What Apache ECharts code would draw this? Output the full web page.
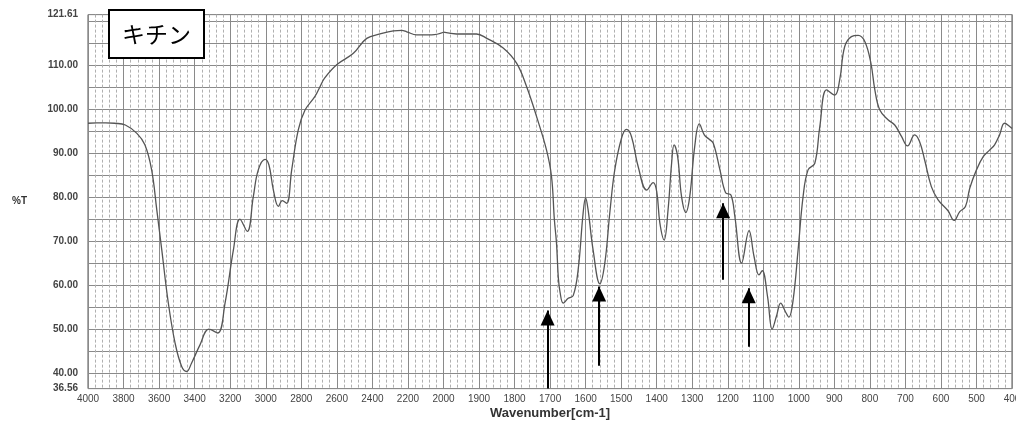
<!DOCTYPE html>
<html>
<head>
<meta charset="utf-8">
<script src="https://cdn.jsdelivr.net/npm/echarts@6/dist/echarts.min.js"></script>
<style>
html, body { margin: 0; padding: 0; background: #fff; }
#chart { width: 1016px; height: 424px; }
</style>
</head>
<body>
<div id="chart"></div>
<script>
// IR spectrum (キチン), wavenumber [cm-1] vs %T
var wavenumber = [
  4000, 3950, 3900, 3850, 3790, 3725, 3680, 3642, 3613, 3585, 3548, 3510, 3473, 3445, 3417,
  3370, 3320, 3270, 3229, 3182, 3145, 3104, 3070, 3042, 3004, 2982, 2957, 2929, 2907, 2882,
  2854, 2817, 2779, 2723, 2695, 2670, 2601, 2507, 2432, 2357, 2282, 2235, 2207, 2151, 2066,
  2000, 1963, 1907, 1878, 1832, 1794, 1766, 1738, 1710, 1696, 1688, 1682, 1677, 1672, 1663,
  1649, 1635, 1621, 1607, 1600, 1593, 1579, 1560, 1546, 1532, 1518, 1499, 1485, 1471, 1452,
  1428, 1410, 1400, 1391, 1379, 1368, 1358, 1351, 1341, 1330, 1318, 1307, 1293, 1280, 1266,
  1253, 1241, 1222, 1206, 1191, 1180, 1161, 1140, 1126, 1112, 1103, 1088, 1075, 1063, 1051,
  1038, 1028, 1016, 1002, 988, 974, 955, 941, 922, 899, 885, 871, 852, 833, 814,
  797, 786, 772, 749, 730, 711, 694, 674, 660, 646, 627, 608, 580, 563, 547,
  531, 519, 500, 481, 463, 449, 435, 421, 404, 400
]
var transmittance = [
  96.9, 97.0, 97.0, 96.9, 96.5, 94.6, 92.0, 86.3, 77.2, 68.1, 56.0, 46.9, 41.6, 40.45, 42.4,
  46.5, 50.1, 49.2, 56.0, 68.1, 75.1, 72.3, 80.2, 86.3, 88.7, 87.4, 81.7, 78.0, 79.3, 78.7,
  86.3, 95.4, 99.9, 103.0, 105.2, 107.1, 110.2, 112.8, 116.2, 117.2, 117.9, 118.0, 117.7, 117.0, 117.0,
  117.6, 117.2, 117.2, 116.2, 114.0, 110.5, 105.2, 98.4, 90.8, 84.8, 75.0, 69.7, 62.0, 58.5, 56.0,
  57.1, 57.7, 63.6, 76.5, 79.9, 77.2, 68.1, 60.4, 65.1, 76.5, 86.3, 93.5, 95.5, 93.9, 87.0,
  81.7, 83.4, 81.4, 74.2, 70.4, 77.2, 87.8, 92.0, 89.3, 80.2, 76.6, 80.2, 91.6, 96.75, 94.25,
  93.3, 92.4, 86.3, 81.1, 80.6, 75.7, 65.1, 72.5, 66.6, 62.4, 63.4, 57.5, 50.1, 53.0, 56.0,
  54.1, 52.8, 56.75, 68.1, 80.2, 86.3, 87.8, 96.1, 104.5, 103.3, 106.75, 114.3, 116.6, 116.9, 115.45,
  110.5, 104.5, 99.9, 97.7, 96.5, 93.9, 91.75, 94.25, 92.7, 88.6, 82.5, 79.5, 77.0, 74.8, 76.8,
  77.95, 82.1, 86.3, 89.3, 90.8, 92.0, 94.25, 96.9, 96.0, 95.7
]

// arrows marking peaks (wavenumber, %T of tail, %T of tip)
var arrowWn = [1707, 1562, 1213, 1141]
var arrowFrom = [36.56, 41.75, 61.3, 46.1]
var arrowTo = [54.3, 59.8, 78.7, 59.4]

var yMin = 36.56
var yMax = 121.61
var splitWn = 2000   // the x scale doubles below 2000 cm-1

var lineColor = '#555'
var gridColor = '#8a8a8a'
var labelFont = 'Liberation Sans'

var highPart = []
var lowPart = []
for (var i = 0; i < wavenumber.length; i++) {
  if (wavenumber[i] >= splitWn) highPart.push([wavenumber[i], transmittance[i]])
  if (wavenumber[i] <= splitWn) lowPart.push([wavenumber[i], transmittance[i]])
}

var arrowData = arrowWn.map(function (w, i) {
  return [{ coord: [w, arrowFrom[i]] }, { coord: [w, arrowTo[i]] }]
})

function xAxisOpt(index, min, max, interval, hideMax) {
  return {
    type: 'value',
    gridIndex: index,
    min: min,
    max: max,
    interval: interval,
    inverse: true,
    axisLine: { show: false },
    axisTick: { show: false },
    axisLabel: {
      margin: 6,
      color: '#444',
      fontSize: 10,
      fontFamily: labelFont,
      showMinLabel: true,
      showMaxLabel: true,
      formatter: function (v) {
        if (hideMax && v === max) return ''
        return String(v)
      }
    },
    splitLine: { show: true, lineStyle: { color: gridColor, width: 1 } },
    minorTick: { show: false, splitNumber: 5 },
    minorSplitLine: { show: true, lineStyle: { color: '#b0b0b0', width: 1, type: [3, 2] } }
  }
}

function yAxisOpt(index, showLabel) {
  return {
    type: 'value',
    gridIndex: index,
    min: yMin,
    max: yMax,
    splitNumber: 17,
    name: showLabel ? '%T' : '',
    nameLocation: 'middle',
    nameRotate: 0,
    nameGap: 61,
    nameTextStyle: { fontSize: 10, fontWeight: 'bold', color: '#333', fontFamily: labelFont },
    axisLine: { show: false },
    axisTick: { show: false },
    axisLabel: {
      show: showLabel,
      margin: 10,
      color: '#444',
      fontSize: 10,
      fontWeight: 'bold',
      fontFamily: labelFont,
      showMinLabel: true,
      showMaxLabel: true,
      formatter: function (v) {
        if (v === yMin || v === yMax) return v.toFixed(2)
        if (v < 115 && Math.abs(v % 10) < 1e-6) return v.toFixed(2)
        return ''
      }
    },
    splitLine: { show: true, lineStyle: { color: gridColor, width: 1 } }
  }
}

var chart = echarts.init(document.getElementById('chart'), null, { renderer: 'canvas' })
chart.setOption({
  animation: false,
  backgroundColor: '#fff',
  grid: [
    { left: 88, top: 14.6, width: 355.5, height: 374, outerBoundsMode: 'none', show: true, borderColor: '#555', borderWidth: 1 },
    { left: 443.5, top: 14.6, width: 568.5, height: 374, outerBoundsMode: 'none', show: true, borderColor: '#555', borderWidth: 1 }
  ],
  xAxis: [
    xAxisOpt(0, 2000, 4000, 200, false),
    xAxisOpt(1, 400, 2000, 100, true)
  ],
  yAxis: [
    yAxisOpt(0, true),
    yAxisOpt(1, false)
  ],
  series: [
    {
      type: 'line',
      xAxisIndex: 0,
      yAxisIndex: 0,
      data: highPart,
      smooth: 0.4,
      showSymbol: false,
      lineStyle: { color: lineColor, width: 1.3 }
    },
    {
      type: 'line',
      xAxisIndex: 1,
      yAxisIndex: 1,
      data: lowPart,
      smooth: 0.4,
      showSymbol: false,
      lineStyle: { color: lineColor, width: 1.3 },
      markLine: {
        silent: true,
        symbol: ['none', 'triangle'],
        symbolSize: [14, 15],
        // put the triangle's tip (not its centre) on the end point
        symbolOffset: [[0, 0], [0, 7.5]],
        label: { show: false },
        lineStyle: { color: '#000', width: 2, type: 'solid' },
        itemStyle: { color: '#000' },
        data: arrowData
      }
    }
  ],
  graphic: [
    {
      type: 'group',
      left: 108,
      top: 9,
      z: 100,
      children: [
        {
          type: 'rect',
          z: 100,
          shape: { x: 0, y: 0, width: 95, height: 48 },
          style: { fill: '#fff', stroke: '#000', lineWidth: 2 }
        },
        {
          type: 'text',
          z: 101,
          x: 47.5,
          y: 24,
          style: {
            text: 'キチン',
            fontSize: 23,
            fontFamily: 'Noto Sans CJK JP',
            fill: '#000',
            align: 'center',
            verticalAlign: 'middle'
          }
        }
      ]
    },
    {
      type: 'text',
      x: 550,
      y: 413,
      style: {
        text: 'Wavenumber[cm-1]',
        fontSize: 13,
        fontWeight: 'bold',
        fontFamily: labelFont,
        fill: '#333',
        align: 'center',
        verticalAlign: 'middle'
      }
    }
  ]
})
</script>
</body>
</html>
